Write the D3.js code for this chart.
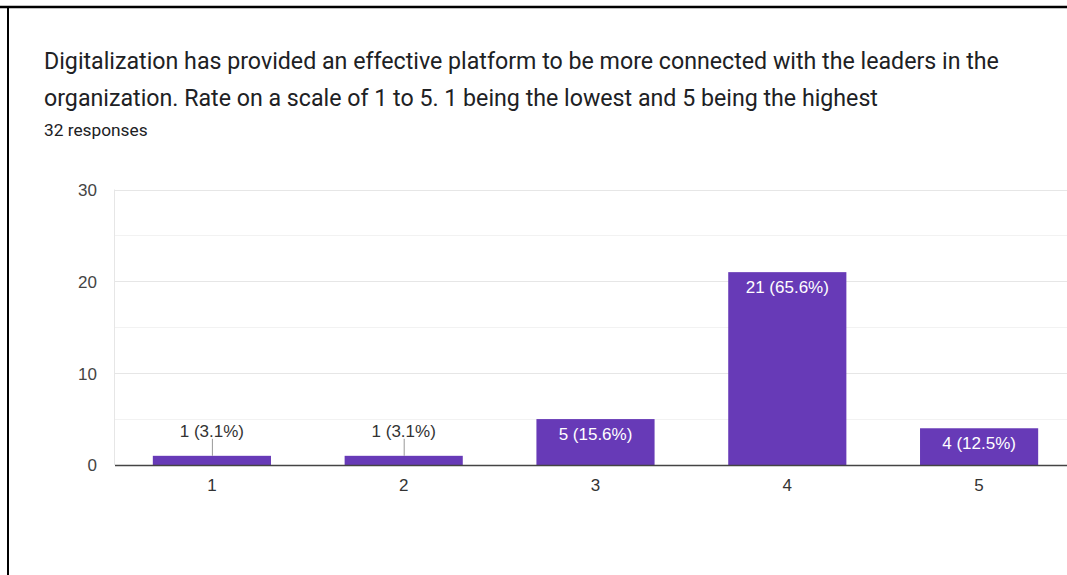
<!DOCTYPE html>
<html>
<head>
<meta charset="utf-8">
<script src="https://cdn.jsdelivr.net/npm/d3@7"></script>
<style>
  html, body { margin: 0; padding: 0; background: #fff; overflow: hidden; }
  svg { display: block; }
  .title { font-family: Roboto, "Noto Sans", sans-serif; }
  .chart-text { font-family: "Liberation Sans", Arial, sans-serif; }
</style>
</head>
<body>
<svg id="chart" width="1067" height="575"></svg>
<script>
// Survey answers: rating scale and count of responses per rating
const categories = ["1", "2", "3", "4", "5"];
const counts = [1, 1, 5, 21, 4];
const yTicks = [0, 10, 20, 30];
const yGrid = [5, 15, 25];
const titleLines = [
  "Digitalization has provided an effective platform to be more connected with the leaders in the",
  "organization. Rate on a scale of 1 to 5. 1 being the lowest and 5 being the highest"
];
const responseCount = 32;

const svg = d3.select("#chart");

// Frame edges (top and left)
svg.append("line").attr("x1", 0).attr("x2", 1067).attr("y1", 7).attr("y2", 7)
  .attr("stroke", "#000").attr("stroke-width", 2.5);
svg.append("line").attr("x1", 8).attr("x2", 8).attr("y1", 6).attr("y2", 575)
  .attr("stroke", "#000").attr("stroke-width", 2);

// Title and response count
svg.selectAll("text.title").data(titleLines).join("text")
  .attr("class", "title")
  .attr("x", 44).attr("y", (d, i) => 69 + i * 37)
  .attr("font-size", 23.2).attr("fill", "#202124")
  .text(d => d);
svg.append("text").attr("class", "title").attr("x", 44).attr("y", 136)
  .attr("font-size", 17.3).attr("fill", "#202124")
  .text(responseCount + " responses");

const plot = { left: 116, right: 1075, top: 189.5, bottom: 465 };

const x = d3.scaleBand().domain(categories)
  .range([plot.left, plot.right]).paddingInner(0.384).paddingOuter(0.192);
const y = d3.scaleLinear().domain([0, 30]).range([plot.bottom, plot.top]);

// Gridlines
svg.append("g").selectAll("line").data(yGrid).join("line")
  .attr("x1", plot.left - 1).attr("x2", 1067)
  .attr("y1", d => Math.round(y(d)) + 0.5).attr("y2", d => Math.round(y(d)) + 0.5)
  .attr("stroke", "#f2f2f2").attr("stroke-width", 1);
svg.append("g").selectAll("line").data(yTicks.filter(d => d > 0)).join("line")
  .attr("x1", plot.left - 1).attr("x2", 1067)
  .attr("y1", d => Math.round(y(d)) + 0.5).attr("y2", d => Math.round(y(d)) + 0.5)
  .attr("stroke", "#e6e6e6").attr("stroke-width", 1.2);
svg.append("line")
  .attr("x1", plot.left - 1.5).attr("x2", plot.left - 1.5)
  .attr("y1", y(30)).attr("y2", y(0))
  .attr("stroke", "#e6e6e6").attr("stroke-width", 1);

// Y axis labels
const yAxis = d3.axisLeft(y).tickValues(yTicks).tickSize(0).tickPadding(19);
const gy = svg.append("g").attr("transform", `translate(${plot.left},0)`).call(yAxis)
  .attr("font-size", null).attr("font-family", null).attr("class", "chart-text");
gy.select(".domain").remove();
gy.selectAll("text").style("font-size", "17px").attr("fill", "#444").attr("dy", "0.35em");

// Bars
const total = d3.sum(counts);
const data = categories.map((c, i) => ({ c, v: counts[i] }));
svg.append("g").selectAll("rect").data(data).join("rect")
  .attr("x", d => x(d.c)).attr("width", x.bandwidth())
  .attr("y", d => y(d.v)).attr("height", d => y(0) - y(d.v))
  .attr("fill", "#673ab7");

// Baseline and x axis labels
const xAxis = d3.axisBottom(x).tickSize(0).tickPadding(14);
const gx = svg.append("g").attr("transform", `translate(0,${plot.bottom})`).call(xAxis)
  .attr("font-size", null).attr("font-family", null).attr("class", "chart-text");
gx.select(".domain").remove();
gx.selectAll("text").style("font-size", "17px").attr("fill", "#333");
svg.append("line").attr("x1", plot.left - 1).attr("x2", 1067)
  .attr("y1", plot.bottom + 0.5).attr("y2", plot.bottom + 0.5)
  .attr("stroke", "#444").attr("stroke-width", 1.5);

// Value labels: inside tall bars, above short bars with a leader line
const fmt = d => `${d.v} (${(d.v / total * 100).toFixed(1)}%)`;
data.forEach(d => {
  const cx = x(d.c) + x.bandwidth() / 2;
  const h = y(0) - y(d.v);
  if (h >= 20) {
    svg.append("text").attr("class", "chart-text").attr("x", cx).attr("y", y(d.v) + 20.5)
      .attr("text-anchor", "middle").style("font-size", "17px").attr("fill", "#fff")
      .text(fmt(d));
  } else {
    svg.append("line").attr("x1", cx + 0.5).attr("x2", cx + 0.5)
      .attr("y1", y(d.v)).attr("y2", y(d.v) - 17)
      .attr("stroke", "#999").attr("stroke-width", 1);
    svg.append("text").attr("class", "chart-text").attr("x", cx).attr("y", y(d.v) - 19)
      .attr("text-anchor", "middle").style("font-size", "17px").attr("fill", "#333")
      .text(fmt(d));
  }
});
</script>
</body>
</html>
